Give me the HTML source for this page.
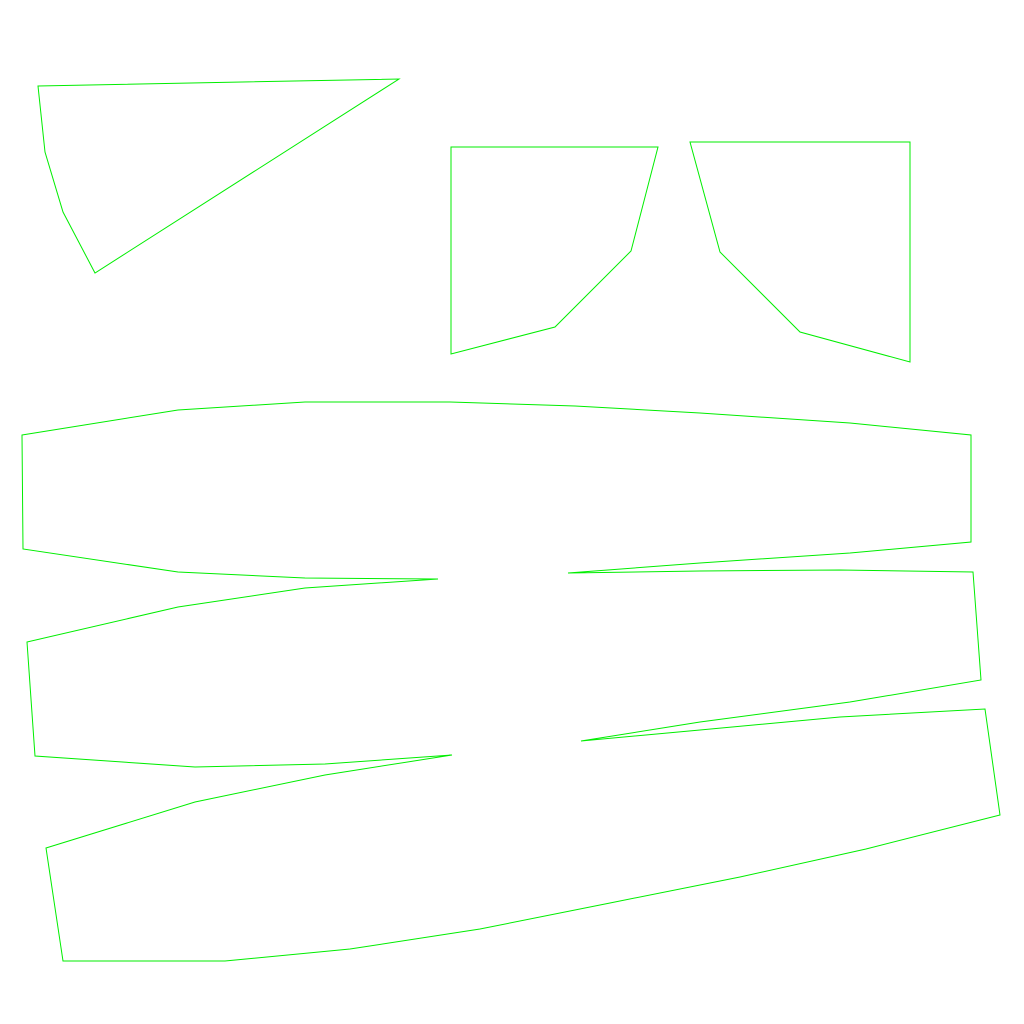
<!DOCTYPE html>
<html>
<head>
<meta charset="utf-8">
<style>
html,body{margin:0;padding:0;background:#fff;}
svg{display:block;}
</style>
</head>
<body>
<svg id="chart" width="1024" height="1024" viewBox="0 0 1024 1024" xmlns="http://www.w3.org/2000/svg">
<rect width="1024" height="1024" fill="#ffffff"/>
</svg>
<script>
const triangleShape = [[38,86],[399,79],[95,273],[63,212],[45,152]];
const leftQuadShape = [[451,147],[658,147],[631,251],[555,327],[451,354]];
const rightQuadShape = [[690,142],[910,142],[910,362],[800,332],[720,252]];
const ribbonShape = [[22,435],[178,410],[305,402],[450,402],[575,406],[700,413],[850,423],[971,435],[971,542],[850,553],[700,563],[568,573],[700,571],[840,570],[973,572],[981,680],[850,702],[700,722],[581,741],[700,730],[840,717],[985,709],[1000,815],[866,849],[740,877],[610,903],[480,929],[350,949],[225,961],[63,961],[46,848],[195,802],[325,775],[452,755],[325,764],[195,767],[35,756],[27,642],[178,607],[305,588],[438,579],[305,578],[178,572],[23,549]];

const svg = document.getElementById('chart');
const NS = 'http://www.w3.org/2000/svg';
function drawPoly(pts, name){
  const p = document.createElementNS(NS,'polygon');
  p.setAttribute('points', pts.map(q=>q[0]+','+q[1]).join(' '));
  p.setAttribute('fill','none');
  p.setAttribute('stroke','#00ee00');
  p.setAttribute('stroke-width','1');
  
  
  svg.appendChild(p);
}
drawPoly(triangleShape,'triangle-outline');
drawPoly(leftQuadShape,'left-quad-outline');
drawPoly(rightQuadShape,'right-quad-outline');
drawPoly(ribbonShape,'ribbon-outline');
</script>
</body>
</html>
